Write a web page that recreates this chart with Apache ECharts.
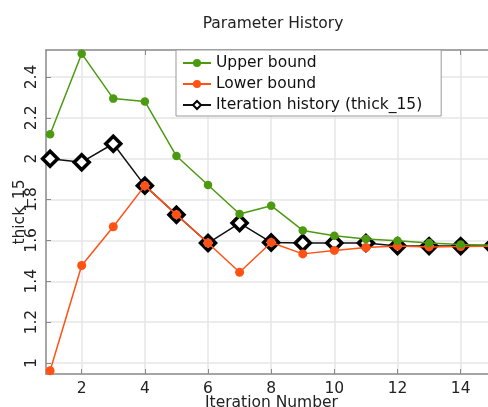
<!DOCTYPE html>
<html>
<head>
<meta charset="utf-8">
<script src="https://cdn.jsdelivr.net/npm/echarts@6/dist/echarts.min.js"></script>
<style>
html, body { margin: 0; padding: 0; background: #fff; }
#chart { width: 488px; height: 407px; }
</style>
</head>
<body>
<div id="chart"></div>
<script>
var iterations = [1, 2, 3, 4, 5, 6, 7, 8, 9, 10, 11, 12, 13, 14, 15];
var upperBound = [2.12, 2.514, 2.294, 2.28, 2.013, 1.871, 1.729, 1.77, 1.649, 1.623, 1.607, 1.598, 1.587, 1.58, 1.577];
var lowerBound = [0.962, 1.477, 1.667, 1.868, 1.726, 1.587, 1.444, 1.59, 1.534, 1.551, 1.565, 1.573, 1.568, 1.57, 1.572];
var iterHistory = [2.0, 1.983, 2.073, 1.868, 1.726, 1.587, 1.685, 1.59, 1.587, 1.587, 1.587, 1.572, 1.572, 1.572, 1.572];
var xTicks = [2, 4, 6, 8, 10, 12, 14];
var yTicks = [1, 1.2, 1.4, 1.6, 1.8, 2, 2.2, 2.4];

function pairs(vals) {
    return iterations.map(function (x, i) { return [x, vals[i]]; });
}

var font = 'DejaVu Sans';
var chart = echarts.init(document.getElementById('chart'));
chart.setOption({
    animation: false,
    title: {
        text: 'Parameter History',
        left: 268, top: 11, textAlign: 'center',
        textStyle: { fontFamily: font, fontSize: 15.5, fontWeight: 'normal', color: '#222' }
    },
    grid: { left: 46, right: -9, top: 50, bottom: 33, outerBoundsMode: 'none', containLabel: false },
    legend: {
        orient: 'vertical', left: 176, top: 50,
        backgroundColor: '#fff', borderColor: '#999', borderWidth: 1,
        padding: [5, 19, 3, 6], itemGap: 5, itemWidth: 28, itemHeight: 10,
        textStyle: { fontFamily: font, fontSize: 15.5, color: '#111' },
        data: ['Upper bound', 'Lower bound', 'Iteration history (thick_15)']
    },
    xAxis: [{
        type: 'value', min: 0.87, max: 15.15,
        name: 'Iteration Number', nameLocation: 'middle', nameGap: 21, nameMoveOverlap: false,
        nameTextStyle: { fontFamily: font, fontSize: 15.5, color: '#222' },
        axisLine: { lineStyle: { color: '#888', width: 1.5 } },
        axisTick: { inside: true, length: 5, customValues: xTicks, lineStyle: { color: '#888' } },
        axisLabel: { customValues: xTicks, fontFamily: font, fontSize: 15.5, color: '#222', margin: 7 },
        splitLine: { show: true, lineStyle: { color: '#e6e6e6', width: 1.5 } }
    }, {
        type: 'value', position: 'top', min: 0.87, max: 15.15,
        axisLine: { lineStyle: { color: '#888', width: 1.5 } },
        axisTick: { inside: true, length: 5, customValues: xTicks, lineStyle: { color: '#888' } },
        axisLabel: { show: false },
        splitLine: { show: false }
    }],
    yAxis: {
        type: 'value', min: 0.946, max: 2.532,
        name: 'thick_15', nameLocation: 'middle', nameGap: 18, nameRotate: 90, nameMoveOverlap: false,
        nameTextStyle: { fontFamily: font, fontSize: 15.5, color: '#222' },
        axisLine: { show: true, lineStyle: { color: '#888', width: 1.5 } },
        axisTick: { show: true, inside: true, length: 5, customValues: yTicks, lineStyle: { color: '#888' } },
        axisLabel: { customValues: yTicks, rotate: 90, fontFamily: font, fontSize: 15.5, color: '#222', margin: 6 },
        splitLine: { show: true, lineStyle: { color: '#e6e6e6', width: 1.5 } }
    },
    series: [{
        name: 'Iteration history (thick_15)', type: 'line', data: pairs(iterHistory),
        symbol: 'diamond', symbolSize: 15, z: 1,
        itemStyle: { color: '#fff', borderColor: '#000', borderWidth: 3.5 },
        lineStyle: { color: '#111', width: 1.5 }
    }, {
        name: 'Lower bound', type: 'line', data: pairs(lowerBound),
        symbol: 'circle', symbolSize: 9,
        itemStyle: { color: '#ff5214' }, lineStyle: { color: '#ff5214', width: 1.5 }
    }, {
        name: 'Upper bound', type: 'line', data: pairs(upperBound),
        symbol: 'circle', symbolSize: 8.5,
        itemStyle: { color: '#4c9a10' }, lineStyle: { color: '#4c9a10', width: 1.5 }
    }]
});
</script>
</body>
</html>
